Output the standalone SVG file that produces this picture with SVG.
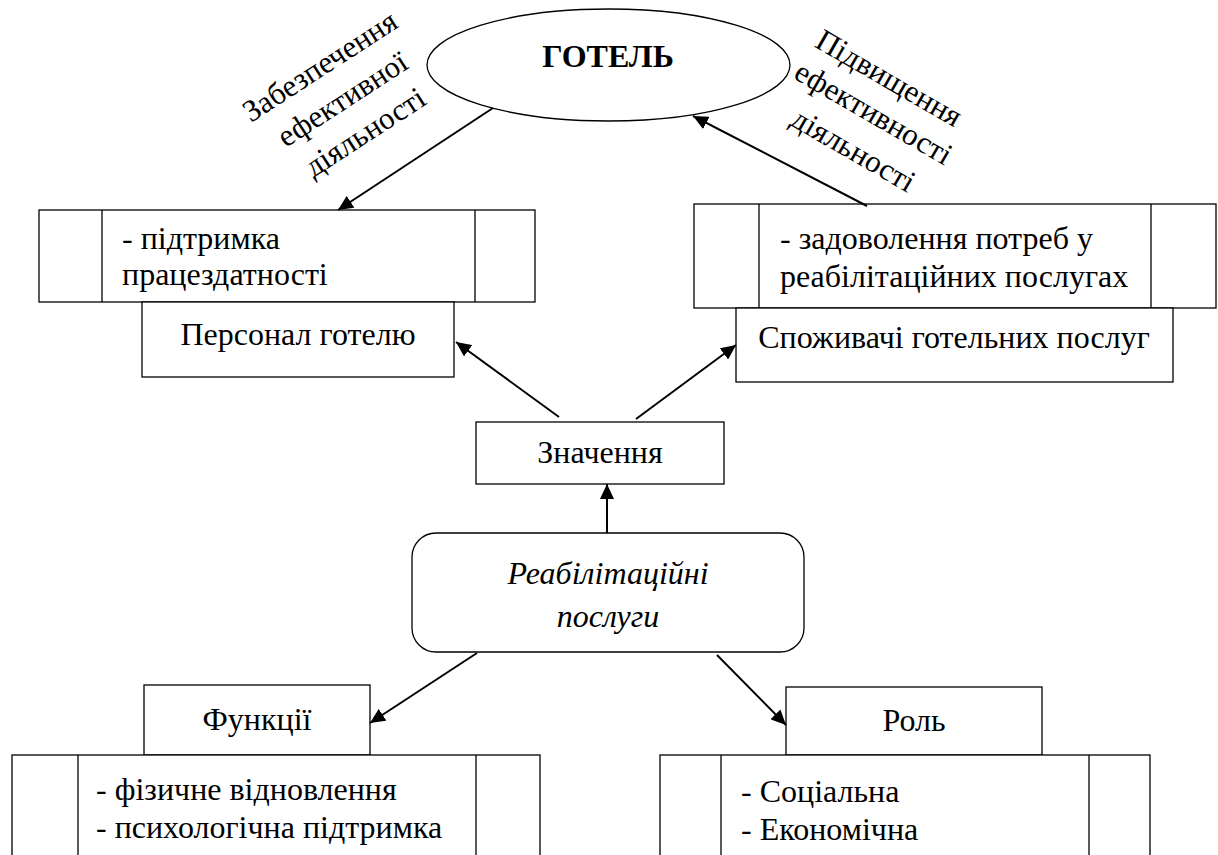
<svg xmlns="http://www.w3.org/2000/svg" width="1218" height="855" viewBox="0 0 1218 855" font-family="Liberation Serif, serif">
<defs>
<marker id="arr" markerUnits="userSpaceOnUse" markerWidth="16" markerHeight="14" refX="15" refY="7" orient="auto">
<path d="M0,0 L15,7 L0,14 z" fill="#000"/>
</marker>
<style>
.b{fill:#fff;stroke:#000;stroke-width:1.3}
.l{fill:none;stroke:#000;stroke-width:1.3}
.t{font-size:32px;fill:#000}
.c{text-anchor:middle}
.r{font-size:31px;text-anchor:middle;fill:#000}
.a{fill:none;stroke:#000;stroke-width:2;marker-end:url(#arr)}
</style>
</defs>
<rect width="1218" height="855" fill="#fff"/>

<g id="hotel">
<ellipse class="b" cx="608.5" cy="65" rx="181.5" ry="56"/>
<text class="t c" x="608" y="67" font-family="Liberation Serif, serif" font-weight="bold" font-size="33">ГОТЕЛЬ</text>
</g>

<g id="label-left">
<text class="r" font-family="Liberation Serif, serif" transform="translate(321,68) rotate(-33)"><tspan x="0" y="8">Забезпечення</tspan><tspan x="1" y="48">ефективної</tspan><tspan x="2" y="88">діяльності</tspan></text>
</g>
<g id="label-right">
<text class="r" font-family="Liberation Serif, serif" transform="translate(888,80) rotate(30)"><tspan x="0" y="8">Підвищення</tspan><tspan x="4" y="46">ефективності</tspan><tspan x="5" y="88">діяльності</tspan></text>
</g>

<g id="staff-values">
<rect class="b" x="39" y="210" width="496" height="92"/>
<line class="l" x1="102" y1="210" x2="102" y2="302"/>
<line class="l" x1="475" y1="210" x2="475" y2="302"/>
<text class="t" font-family="Liberation Serif, serif" x="122" y="249">- підтримка</text>
<text class="t" font-family="Liberation Serif, serif" x="122" y="285">працездатності</text>
</g>
<g id="staff">
<rect class="b" x="142" y="302" width="312" height="75"/>
<text class="t c" font-family="Liberation Serif, serif" x="298" y="345">Персонал готелю</text>
</g>

<g id="consumer-values">
<rect class="b" x="694" y="204" width="522" height="104"/>
<line class="l" x1="759" y1="204" x2="759" y2="308"/>
<line class="l" x1="1151" y1="204" x2="1151" y2="308"/>
<text class="t" font-family="Liberation Serif, serif" x="780" y="249">- задоволення потреб у</text>
<text class="t" font-family="Liberation Serif, serif" x="780" y="287">реабілітаційних послугах</text>
</g>
<g id="consumers">
<rect class="b" x="736" y="308" width="437" height="74"/>
<text class="t c" font-family="Liberation Serif, serif" x="954" y="348">Споживачі готельних послуг</text>
</g>

<g id="meaning">
<rect class="b" x="476" y="422" width="248" height="62"/>
<text class="t c" font-family="Liberation Serif, serif" x="600" y="463">Значення</text>
</g>

<g id="services">
<rect class="b" x="412" y="533" width="392" height="119" rx="24" ry="24"/>
<text class="t c" font-family="Liberation Serif, serif" x="608" y="584" font-style="italic" font-size="35">Реабілітаційні</text>
<text class="t c" font-family="Liberation Serif, serif" x="608" y="627" font-style="italic" font-size="35">послуги</text>
</g>

<g id="functions">
<rect class="b" x="144" y="685" width="226" height="70"/>
<text class="t c" font-family="Liberation Serif, serif" x="257" y="730">Функції</text>
</g>
<g id="functions-list">
<rect class="b" x="12" y="755" width="528" height="120"/>
<line class="l" x1="78" y1="755" x2="78" y2="875"/>
<line class="l" x1="476" y1="755" x2="476" y2="875"/>
<text class="t" font-family="Liberation Serif, serif" x="96" y="800">- фізичне відновлення</text>
<text class="t" font-family="Liberation Serif, serif" x="96" y="838">- психологічна підтримка</text>
</g>

<g id="role">
<rect class="b" x="786" y="687" width="256" height="68"/>
<text class="t c" font-family="Liberation Serif, serif" x="914" y="731">Роль</text>
</g>
<g id="role-list">
<rect class="b" x="660" y="755" width="490" height="120"/>
<line class="l" x1="721" y1="755" x2="721" y2="875"/>
<line class="l" x1="1089" y1="755" x2="1089" y2="875"/>
<text class="t" font-family="Liberation Serif, serif" x="741" y="802">- Соціальна</text>
<text class="t" font-family="Liberation Serif, serif" x="741" y="840">- Економічна</text>
</g>

<g id="connectors">
<line class="a" x1="493" y1="108" x2="338" y2="210"/>
<line class="a" x1="867" y1="206" x2="693" y2="116"/>
<line class="a" x1="559" y1="417" x2="456" y2="342"/>
<line class="a" x1="636" y1="419" x2="736" y2="345"/>
<line class="a" x1="607" y1="533" x2="607" y2="484"/>
<line class="a" x1="477" y1="653" x2="370" y2="723"/>
<line class="a" x1="717" y1="655" x2="786" y2="725"/>
</g>
</svg>
